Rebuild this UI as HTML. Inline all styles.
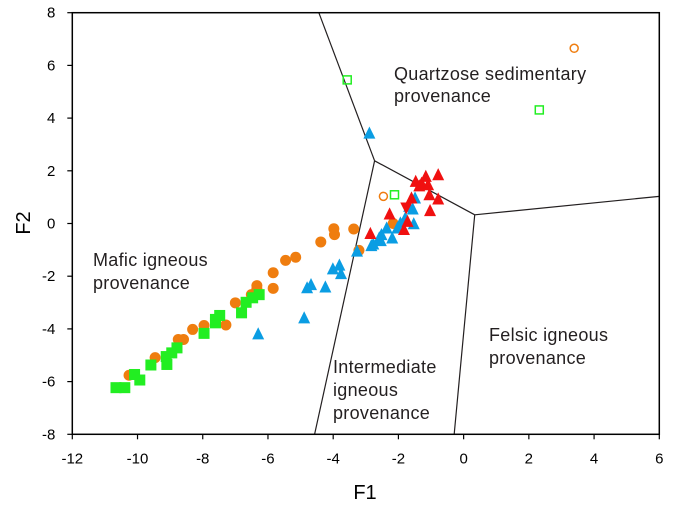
<!DOCTYPE html>
<html><head><meta charset="utf-8"><style>
html,body{margin:0;padding:0;background:#fff;}
svg{display:block;font-family:"Liberation Sans",Arial,sans-serif;}
</style></head><body>
<svg id="chart" width="685" height="506" viewBox="0 0 685 506">
<g id="regions"></g>
<g id="axes"></g>
<g id="marks"></g>
<g id="labels" fill="#231f20" font-size="18" letter-spacing="0.3">
<text x="394" y="80">Quartzose sedimentary</text>
<text x="394" y="102">provenance</text>
<text x="93" y="266">Mafic igneous</text>
<text x="93" y="289">provenance</text>
<text x="333" y="373">Intermediate</text>
<text x="333" y="396">igneous</text>
<text x="333" y="419">provenance</text>
<text x="489" y="341">Felsic igneous</text>
<text x="489" y="364">provenance</text>
</g>
<text x="365" y="499" font-size="20" text-anchor="middle" fill="#000">F1</text>
<text x="0" y="0" font-size="20" text-anchor="middle" fill="#000" transform="translate(30,223) rotate(-90)">F2</text>
</svg>
<script>
const xTicks = [-12,-10,-8,-6,-4,-2,0,2,4,6];
const yTicks = [-8,-6,-4,-2,0,2,4,6,8];
const boundaryLines = [
  [[-4.44,8],[-2.73,2.38]],
  [[-2.73,2.38],[0.34,0.33]],
  [[0.34,0.33],[6,1.03]],
  [[-2.73,2.38],[-4.57,-8]],
  [[0.34,0.33],[-0.29,-8]]
];
const orangeFilledX = [-10.26,-9.46,-8.75,-8.59,-8.31,-7.96,-7.29,-7.00,-6.51,-6.34,-6.34,-5.84,-5.84,-5.46,-5.15,-4.38,-3.98,-3.96,-3.37,-3.21,-2.16];
const orangeFilledY = [-5.76,-5.09,-4.40,-4.40,-4.02,-3.87,-3.85,-3.01,-2.70,-2.36,-2.48,-1.87,-2.46,-1.40,-1.28,-0.70,-0.20,-0.42,-0.21,-1.02,0.0];
const greenFilledX = [-10.66,-10.39,-10.09,-9.93,-9.59,-9.12,-9.10,-8.95,-8.79,-7.96,-7.61,-7.61,-7.48,-6.81,-6.67,-6.47,-6.27];
const greenFilledY = [-6.23,-6.23,-5.73,-5.94,-5.37,-5.05,-5.35,-4.91,-4.72,-4.17,-3.77,-3.64,-3.49,-3.39,-2.99,-2.82,-2.70];
const blueX = [-2.89,-6.30,-4.89,-4.80,-4.68,-4.24,-4.01,-3.81,-3.76,-3.27,-2.83,-2.77,-2.59,-2.54,-2.52,-2.36,-2.19,-2.03,-1.94,-1.79,-1.67,-1.56,-1.53,-1.49];
const blueY = [3.43,-4.19,-3.58,-2.44,-2.32,-2.41,-1.72,-1.58,-1.90,-1.05,-0.84,-0.78,-0.55,-0.65,-0.42,-0.17,-0.55,-0.17,0.02,0.21,0.65,0.55,-0.01,0.97];
const redX = [-2.86,-2.27,-1.83,-1.72,-1.60,-1.47,-1.36,-1.29,-1.16,-1.09,-1.05,-1.03,-0.78,-0.78];
const redY = [-0.38,0.36,-0.23,0.08,0.97,1.60,1.43,1.53,1.79,1.47,1.09,0.49,1.85,0.93];
const redInvX = [-1.76];
const redInvY = [0.59];
const orangeOpenX = [3.39,-2.46];
const orangeOpenY = [6.65,1.03];
const greenOpenX = [-3.57,2.32,-2.12];
const greenOpenY = [5.45,4.31,1.09];

const L=72.3,R=659.3,T=12.7,B=434.3;
const sx=v=>L+(v+12)/18*(R-L);
const sy=v=>B-(v+8)/16*(B-T);
const NS='http://www.w3.org/2000/svg';
function mk(tag,attrs,parent){const e=document.createElementNS(NS,tag);for(const k in attrs)e.setAttribute(k,attrs[k]);parent.appendChild(e);return e;}
const reg=document.getElementById('regions'),ax=document.getElementById('axes'),mg=document.getElementById('marks');
boundaryLines.forEach((s,i)=>{
  const l=mk('line',{x1:sx(s[0][0]),y1:sy(s[0][1]),x2:sx(s[1][0]),y2:sy(s[1][1]),stroke:'#231f20','stroke-width':1.2},reg);
  
  
});
const fr=mk('rect',{x:L,y:T,width:R-L,height:B-T,fill:'none',stroke:'#000','stroke-width':1.5},ax);


xTicks.forEach(v=>{
  mk('line',{x1:sx(v),x2:sx(v),y1:B,y2:B+5,stroke:'#000','stroke-width':1.2},ax);
  const t=mk('text',{x:sx(v),y:B+29,'text-anchor':'middle','font-size':15,fill:'#000'},ax);
  t.textContent=v;
  
  
});
yTicks.forEach(v=>{
  mk('line',{x1:L-5,x2:L,y1:sy(v),y2:sy(v),stroke:'#000','stroke-width':1.2},ax);
  const t=mk('text',{x:L-17,y:sy(v)+5,'text-anchor':'end','font-size':15,fill:'#000'},ax);
  t.textContent=v;
  
  
});
function circle(xs,ys,fill,stroke,name){xs.forEach((x,i)=>{
  const c=mk('circle',{cx:sx(x),cy:sy(ys[i]),r:fill==='none'?4:5.5,fill:fill,stroke:stroke,'stroke-width':fill==='none'?1.5:0},mg);
  
  
});}
function square(xs,ys,fill,stroke,name){xs.forEach((x,i)=>{
  const s=fill==='none'?8:11;
  const r=mk('rect',{x:sx(x)-s/2,y:sy(ys[i])-s/2,width:s,height:s,fill:fill,stroke:stroke,'stroke-width':fill==='none'?1.5:0},mg);
  
  
});}
function tri(xs,ys,fill,name,inv){xs.forEach((x,i)=>{
  const cx=sx(x),cy=sy(ys[i]),h=inv?-5.5:5.5;
  const p=mk('polygon',{points:`${cx},${cy-h*1.2} ${cx-6},${cy+h} ${cx+6},${cy+h}`,fill:fill},mg);
  
  
});}
circle(orangeFilledX,orangeFilledY,'#ef7d0f','none','orange-circle-point');
square(greenFilledX,greenFilledY,'#22ee22','none','green-square-point');
tri(blueX,blueY,'#0a9de3','blue-triangle-point',false);
tri(redX,redY,'#f01010','red-triangle-point',false);
tri(redInvX,redInvY,'#f01010','red-inverted-triangle-point',true);
circle(orangeOpenX,orangeOpenY,'none','#ef7d0f','orange-open-circle-point');
square(greenOpenX,greenOpenY,'none','#22ee22','green-open-square-point');
</script>
</body></html>
